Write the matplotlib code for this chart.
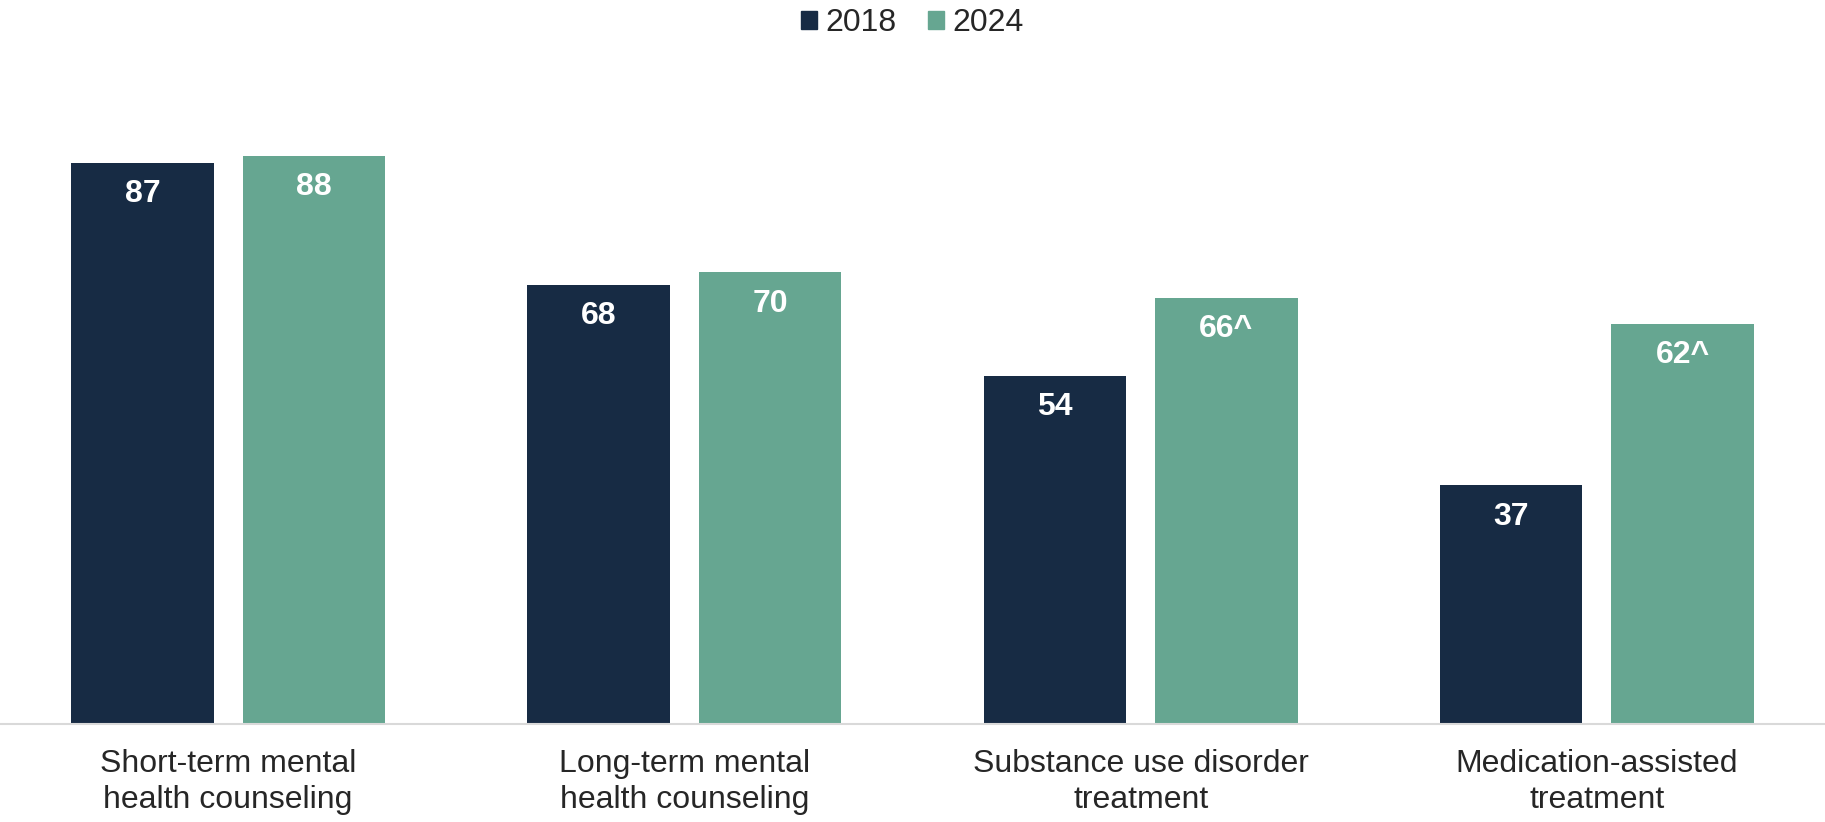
import numpy as np
import matplotlib.pyplot as plt
from matplotlib.patches import Patch

plt.rcParams['font.family'] = ['Liberation Sans', 'DejaVu Sans']

categories = ["Short-term mental\nhealth counseling",
              "Long-term mental\nhealth counseling",
              "Substance use disorder\ntreatment",
              "Medication-assisted\ntreatment"]
years = ["2018", "2024"]
values_2018 = [87, 68, 54, 37]
values_2024 = [88, 70, 66, 62]
labels_2018 = ["87", "68", "54", "37"]
labels_2024 = ["88", "70", "66^", "62^"]

colors = ["#172B44", "#66A691"]

fig = plt.figure(figsize=(18.25, 8.22), dpi=100)
ax = fig.add_axes([0, 0.1192, 1, 0.8078])

x = np.arange(len(categories))
w = 0.3125
off = (w + 0.0634) / 2

b1 = ax.bar(x - off, values_2018, w, color=colors[0])
b2 = ax.bar(x + off, values_2024, w, color=colors[1])

# value labels sit just inside the top of each bar
for bars, labs in [(b1, labels_2018), (b2, labels_2024)]:
    for bar, lab in zip(bars, labs):
        ax.annotate(lab, (bar.get_x() + bar.get_width() / 2, bar.get_height()),
                    xytext=(0, -22.5), textcoords="offset points",
                    ha="center", va="center", color="white",
                    fontsize=23, fontweight="bold")

ax.set_xlim(-0.5, len(categories) - 0.5)
ax.set_ylim(0, 102.9)
ax.set_xticks(x)
ax.set_xticklabels(categories, fontsize=23, color="#262626", linespacing=1.28)
ax.tick_params(axis="x", length=0, pad=18)
ax.set_yticks([])
for s in ["top", "right", "left"]:
    ax.spines[s].set_visible(False)
ax.spines["bottom"].set_color("#D9D9D9")
ax.spines["bottom"].set_linewidth(1.5)

handles = [Patch(color=c) for c in colors]
fig.legend(handles, years, loc="center", bbox_to_anchor=(0.5, 0.972),
           ncol=2, frameon=False, fontsize=23, handlelength=0.5,
           handleheight=0.5, handletextpad=0.25, columnspacing=1.0,
           labelcolor="#262626")

fig.savefig("out.png", dpi=100)
